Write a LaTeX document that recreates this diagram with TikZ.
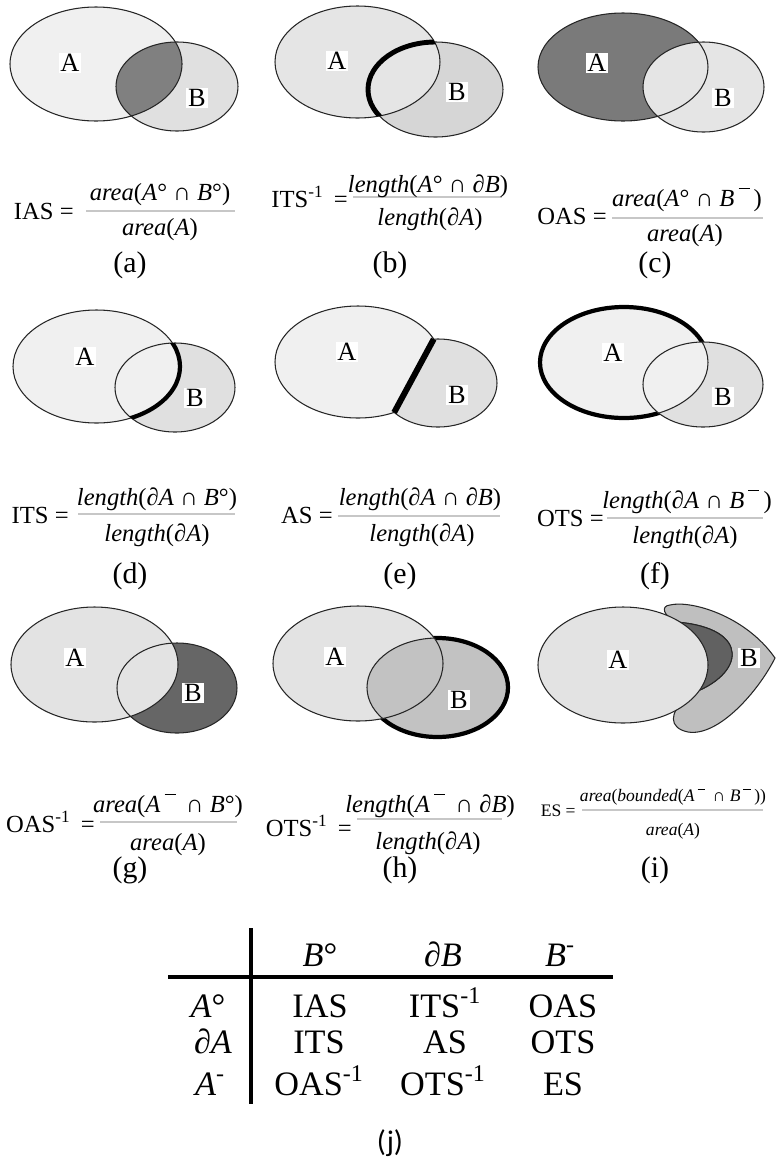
\documentclass[tikz,border=0pt]{standalone}
\usepackage{fontspec}
\setmainfont{Liberation Serif}
\newfontfamily\capfont{Carlito}
\usetikzlibrary{calc,intersections}

% raised bar for the exterior
\newcommand{\cmpl}{\raisebox{1.5ex}{\rule{0.45em}{0.045em}}}

\tikzset{
  bnd/.style={line width=0.6pt, draw=black!85},
  boldbnd/.style={line width=2.4pt, draw=black},
  lbl/.style={fill=white, inner sep=1pt, font=\fontsize{15}{17}\selectfont},
  frm/.style={inner sep=0pt, font=\fontsize{14}{16}\selectfont},
  lhs/.style={frm, anchor=base east},
  smallfrm/.style={inner sep=0pt, font=\fontsize{10}{12}\selectfont},
  fracline/.style={draw=black!22, line width=0.9pt},
  panelcap/.style={font=\fontsize{17}{19}\selectfont},
  tab/.style={anchor=base, font=\fontsize{19.5}{22}\selectfont},
  tabrule/.style={line width=1.8pt}
}

\begin{document}
\begin{tikzpicture}[x=0.02cm, y=-0.02cm]
    \useasboundingbox (0,0) rectangle (775,1160);

    % (a) interior / interior
    \fill[black!12] (177,86.5) ellipse (61 and 44.5);
    \fill[black!6] (96,64) ellipse (86 and 57);
    \begin{scope}
        \clip (96,64) ellipse (86 and 57);
        \fill[black!50] (177,86.5) ellipse (61 and 44.5);
    \end{scope}
    \draw[bnd] (96,64) ellipse (86 and 57);
    \draw[bnd] (177,86.5) ellipse (61 and 44.5);
    \node[lbl] (Aa) at (70,63) {A};
    \node[lbl] (Ba) at (197,98) {B};

    \node[lhs] (lhsa) at (74,219) {IAS =};
    \draw[fracline] (86,211) -- (235,211);
    \node[frm] (numa) at (160,195) {\textit{area}(\textit{A}° ∩ \textit{B}°)};
    \node[frm] (dena) at (160,230) {\textit{area}(\textit{A})};
    \node[panelcap] (capa) at (130,265) {(a)};

    % (b) interior / boundary
    \fill[black!16] (435.5,89.5) ellipse (67.5 and 47.5);
    \fill[black!10] (357.5,62) ellipse (82.5 and 56);
    \draw[bnd] (357.5,62) ellipse (82.5 and 56);
    \draw[bnd] (435.5,89.5) ellipse (67.5 and 47.5);
    \begin{scope}
        \clip (357.5,62) ellipse (82.5 and 56);
        \draw[boldbnd, line width=2.8pt] (435.5,89.5) ellipse (67.5 and 47.5);
    \end{scope}
    \node[lbl] (Ab) at (337,61) {A};
    \node[lbl] (Bb) at (457,92) {B};

    \node[lhs] (lhsb) at (348,207) {ITS\textsuperscript{-1}\, =};
    \draw[fracline] (353,197) -- (502,197);
    \node[frm] (numb) at (428,186) {\textit{length}(\textit{A}° ∩ \textit{∂B})};
    \node[frm] (denb) at (430,219) {\textit{length}(\textit{∂A})};
    \node[panelcap] (capb) at (390,265) {(b)};

    % (c) interior / exterior
    \fill[black!52] (623,67) ellipse (85 and 54);
    \fill[black!10] (703.5,87) ellipse (60.5 and 45);
    \draw[bnd] (623,67) ellipse (85 and 54);
    \draw[bnd] (703.5,87) ellipse (60.5 and 45);
    \node[lbl] (Ac) at (597,63) {A};
    \node[lbl] (Bc) at (723,98) {B};

    \node[lhs] (lhsc) at (607,224) {OAS =};
    \draw[fracline] (612,218) -- (763,218);
    \node[frm] (numc) at (687,200) {\textit{area}(\textit{A}° ∩ \textit{B}\,\cmpl\,)};
    \node[frm] (denc) at (685,236) {\textit{area}(\textit{A})};
    \node[panelcap] (capc) at (655,265) {(c)};

    % (d) boundary / interior
    \fill[black!12] (175,387.5) ellipse (60 and 44.5);
    \fill[black!6] (96.5,366.5) ellipse (83.5 and 56.5);
    \draw[bnd] (96.5,366.5) ellipse (83.5 and 56.5);
    \draw[bnd] (175,387.5) ellipse (60 and 44.5);
    \begin{scope}
        \clip (175,387.5) ellipse (60 and 44.5);
        \draw[boldbnd] (96.5,366.5) ellipse (83.5 and 56.5);
    \end{scope}
    \node[lbl] (Ad) at (85,357) {A};
    \node[lbl] (Bd) at (195,398) {B};

    \node[lhs] (lhsd) at (69,523) {ITS =};
    \draw[fracline] (78,514) -- (235,514);
    \node[frm] (numd) at (157,499) {\textit{length}(\textit{∂A} ∩ \textit{B}°)};
    \node[frm] (dend) at (157,535) {\textit{length}(\textit{∂A})};
    \node[panelcap] (capd) at (130,576) {(d)};

    % (e) boundary / boundary
    \path[name path=ae] (358,362) ellipse (83 and 56);
    \path[name path=be] (438,383) ellipse (59 and 44);
    \path[name intersections={of=ae and be, by={e1,e2}}];
    \coordinate (e3) at ($(e1)!-2!(e2)$);
    \coordinate (e4) at ($(e1)!3!(e2)$);
    \begin{scope}
        \clip (e3) -- (e4) -- ++(-300,0) -- ($(e3)+(-300,0)$) -- cycle;
        \filldraw[bnd, fill=black!6] (358,362) ellipse (83 and 56);
    \end{scope}
    \begin{scope}
        \clip (e3) -- (e4) -- ++(300,0) -- ($(e3)+(300,0)$) -- cycle;
        \filldraw[bnd, fill=black!12] (438,383) ellipse (59 and 44);
    \end{scope}
    \draw[boldbnd, line width=3.4pt] (e1) -- (e2);
    \node[lbl] (Ae) at (347,352) {A};
    \node[lbl] (Be) at (457,395) {B};

    \node[lhs] (lhse) at (333,523) {AS =};
    \draw[fracline] (338,516) -- (500,516);
    \node[frm] (nume) at (420,499) {\textit{length}(\textit{∂A} ∩ \textit{∂B})};
    \node[frm] (dene) at (422,535) {\textit{length}(\textit{∂A})};
    \node[panelcap] (cape) at (400,576) {(e)};

    % (f) boundary / exterior
    \fill[black!12] (703,384.5) ellipse (60 and 42.5);
    \fill[black!6] (624,362.5) ellipse (84 and 55.5);
    \draw[boldbnd] (624,362.5) ellipse (84 and 55.5);
    \begin{scope}
        \clip (703,384.5) ellipse (60 and 42.5);
        \fill[black!12] (703,384.5) ellipse (60 and 42.5);
        \fill[black!6] (624,362.5) ellipse (84 and 55.5);
        \draw[bnd] (624,362.5) ellipse (84 and 55.5);
    \end{scope}
    \draw[bnd] (703,384.5) ellipse (60 and 42.5);
    \node[lbl] (Af) at (613,353) {A};
    \node[lbl] (Bf) at (723,397) {B};

    \node[lhs] (lhsf) at (604,526) {OTS =};
    \draw[fracline] (607,518) -- (763,518);
    \node[frm] (numf) at (687,502) {\textit{length}(\textit{∂A} ∩ \textit{B}\,\cmpl\,)};
    \node[frm] (denf) at (685,537) {\textit{length}(\textit{∂A})};
    \node[panelcap] (capf) at (655,576) {(f)};

    % (g) exterior / interior
    \fill[black!60] (177,688) ellipse (60 and 45);
    \fill[black!11] (94.5,664.5) ellipse (83.5 and 57.5);
    \draw[bnd] (94.5,664.5) ellipse (83.5 and 57.5);
    \draw[bnd] (177,688) ellipse (60 and 45);
    \node[lbl] (Ag) at (75,658) {A};
    \node[lbl] (Bg) at (193,693) {B};

    \node[lhs] (lhsg) at (95,832) {OAS\textsuperscript{-1}\, =};
    \draw[fracline] (100,822) -- (237,822);
    \node[frm] (numg) at (168,806) {\textit{area}(\textit{A}\,\cmpl\, ∩ \textit{B}°)};
    \node[frm] (deng) at (168,845) {\textit{area}(\textit{A})};
    \node[panelcap] (capg) at (130,870) {(g)};

    % (h) exterior / boundary
    \fill[black!11] (358,663.5) ellipse (85 and 57.5);
    \filldraw[boldbnd, fill=black!24] (437.5,687.5) ellipse (70.5 and 49.5);
    \begin{scope}
        \clip (358,663.5) ellipse (85 and 57.5);
        \fill[black!11] (358,663.5) ellipse (85 and 57.5);
        \fill[black!24] (437.5,687.5) ellipse (70.5 and 49.5);
        \draw[bnd] (437.5,687.5) ellipse (70.5 and 49.5);
    \end{scope}
    \draw[bnd] (358,663.5) ellipse (85 and 57.5);
    \node[lbl] (Ah) at (335,657) {A};
    \node[lbl] (Bh) at (459,700) {B};

    \node[lhs] (lhsh) at (352,836) {OTS\textsuperscript{-1}\, =};
    \draw[fracline] (357,819) -- (502,819);
    \node[frm] (numh) at (430,806) {\textit{length}(\textit{A}\,\cmpl\, ∩ \textit{∂B})};
    \node[frm] (denh) at (428,843) {\textit{length}(\textit{∂A})};
    \node[panelcap] (caph) at (400,870) {(h)};

    % (i) exterior / exterior
    \filldraw[bnd, fill=black!25] (670,605) .. controls (690,600) and (745,615) .. (775,658)
        .. controls (758,692) and (718,737) .. (688,732)
        .. controls (668,728) and (670,712) .. (685,700) -- (690,694)
        .. controls (745,675) and (752,628) .. (676,622)
        .. controls (664,616) and (660,606) .. (670,605) -- cycle;
    \fill[black!62] (690,694) .. controls (745,675) and (752,628) .. (676,622) -- (640,660) -- cycle;
    \draw[bnd] (690,694) .. controls (745,675) and (752,628) .. (676,622);
    \filldraw[bnd, fill=black!11] (623,665) ellipse (85 and 58);
    \node[lbl] (Ai) at (618,660) {A};
    \node[lbl] (Bi) at (749,658) {B};

    \node[smallfrm, anchor=base east] (lhsi) at (576,816) {ES =};
    \draw[fracline] (582,810) -- (763,810);
    \node[smallfrm] (numi) at (673,797) {\textit{area}(\textit{bounded}(\textit{A}\,\cmpl\, ∩ \textit{B}\,\cmpl\,))};
    \node[smallfrm] (deni) at (673,831) {\textit{area}(\textit{A})};
    \node[panelcap] (capi) at (655,870) {(i)};

    % (j) the nine relations
    \draw[tabrule] (251,928) -- (251,1104);
    \draw[tabrule] (168,977) -- (613,977);

    \node[tab] (hin) at (320,966) {\textit{B}°};
    \node[tab] (hbd) at (443,966) {\textit{∂B}};
    \node[tab] (hout) at (560,966) {\textit{B}\textsuperscript{-}};

    \node[tab] (rin) at (208,1017) {\textit{A}°};
    \node[tab] (rbd) at (213,1053) {\textit{∂A}};
    \node[tab] (rout) at (210,1095) {\textit{A}\textsuperscript{-}};

    \node[tab] (tii) at (320,1017) {IAS};
    \node[tab] (tib) at (445,1017) {ITS\textsuperscript{-1}};
    \node[tab] (tio) at (563,1017) {OAS};
    \node[tab] (tbi) at (319,1053) {ITS};
    \node[tab] (tbb) at (445,1053) {AS};
    \node[tab] (tbo) at (563,1053) {OTS};
    \node[tab] (toi) at (319,1095) {OAS\textsuperscript{-1}};
    \node[tab] (tob) at (443,1095) {OTS\textsuperscript{-1}};
    \node[tab] (too) at (563,1095) {ES};

    \node[font=\capfont\fontsize{17}{19}\selectfont] (capj) at (390,1143) {(j)};

\end{tikzpicture}
\end{document}
